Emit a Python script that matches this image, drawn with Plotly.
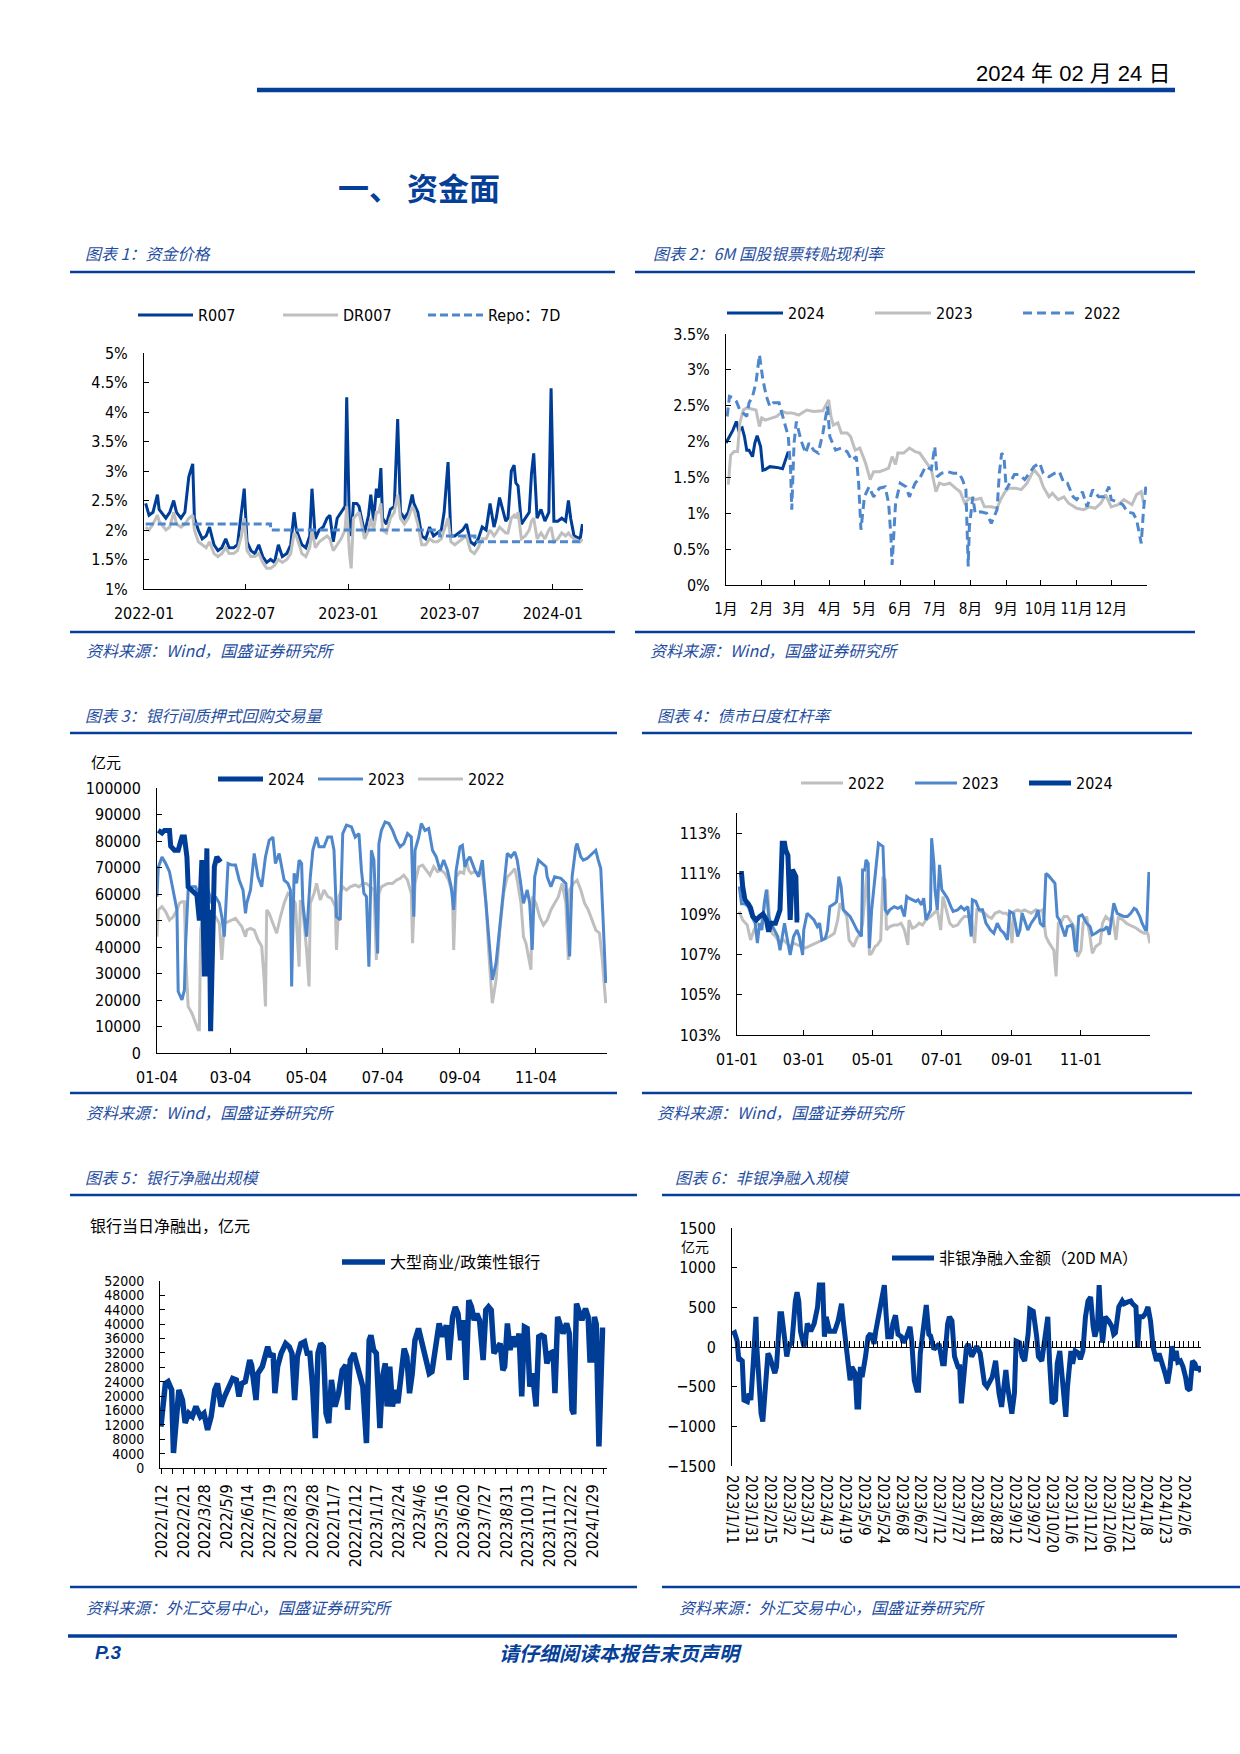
import plotly.graph_objects as go

W, H = 1240, 1754

# ======================= DATA =======================
# Chart 1: money market rates (%), 2022-01 .. 2024-02
c1_dates = [
    "2022-01-04", "2022-01-10", "2022-01-17", "2022-01-25", "2022-01-28",
    "2022-02-09", "2022-02-16", "2022-02-23", "2022-02-28",
    "2022-03-08", "2022-03-15", "2022-03-22", "2022-03-29",
    "2022-04-01", "2022-04-08", "2022-04-15", "2022-04-22", "2022-04-28",
    "2022-05-06", "2022-05-13", "2022-05-20", "2022-05-27",
    "2022-06-02", "2022-06-10", "2022-06-17", "2022-06-24", "2022-06-29",
    "2022-07-04", "2022-07-11", "2022-07-18", "2022-07-25",
    "2022-08-01", "2022-08-08", "2022-08-15", "2022-08-22", "2022-08-29",
    "2022-09-05", "2022-09-13", "2022-09-20", "2022-09-26", "2022-09-30",
    "2022-10-10", "2022-10-17", "2022-10-24", "2022-10-28",
    "2022-11-03", "2022-11-10", "2022-11-17", "2022-11-24", "2022-11-29",
    "2022-12-05", "2022-12-12", "2022-12-19", "2022-12-26", "2022-12-29",
    "2023-01-03", "2023-01-06", "2023-01-10", "2023-01-16", "2023-01-20", "2023-01-30",
    "2023-02-06", "2023-02-10", "2023-02-15", "2023-02-20", "2023-02-24", "2023-02-28",
    "2023-03-03", "2023-03-10", "2023-03-17", "2023-03-24", "2023-03-30",
    "2023-04-04", "2023-04-11", "2023-04-18", "2023-04-25", "2023-04-28",
    "2023-05-05", "2023-05-12", "2023-05-19", "2023-05-26",
    "2023-06-02", "2023-06-09", "2023-06-16", "2023-06-21", "2023-06-28",
    "2023-07-03", "2023-07-10", "2023-07-17", "2023-07-24", "2023-07-31",
    "2023-08-07", "2023-08-14", "2023-08-21", "2023-08-28",
    "2023-09-04", "2023-09-11", "2023-09-18", "2023-09-22", "2023-09-28",
    "2023-10-09", "2023-10-13", "2023-10-19", "2023-10-24", "2023-10-27", "2023-10-31",
    "2023-11-06", "2023-11-13", "2023-11-20", "2023-11-24", "2023-11-28",
    "2023-12-04", "2023-12-11", "2023-12-18", "2023-12-25", "2023-12-29",
    "2024-01-03", "2024-01-10", "2024-01-17", "2024-01-24", "2024-01-29",
    "2024-02-02", "2024-02-08", "2024-02-19", "2024-02-23",
]
c1_r007 = [
    2.45, 2.25, 2.3, 2.6, 2.35,
    2.2, 2.3, 2.5, 2.3,
    2.2, 2.3, 2.9, 3.12,
    2.2, 2.0, 1.85, 1.9, 2.05,
    1.75, 1.65, 1.7, 1.85,
    1.7, 1.7, 1.75, 2.3, 2.7,
    1.8, 1.65, 1.6, 1.75,
    1.55, 1.45, 1.5, 1.45, 1.75,
    1.55, 1.6, 1.75, 2.3, 2.0,
    1.75, 1.7, 1.9, 2.7,
    1.85, 2.0, 2.05, 2.2, 2.25,
    1.8, 2.2, 2.3, 2.4, 4.25,
    2.0, 1.9, 2.45, 2.45, 2.4, 1.95,
    2.25, 2.6, 2.15, 2.7, 2.55, 3.05,
    2.2, 2.1, 2.35, 2.4, 3.88,
    2.3, 2.2, 2.3, 2.6, 2.45,
    2.3, 1.9, 1.85, 2.05,
    1.9, 1.95, 2.0, 2.3, 3.15,
    1.9, 1.9, 1.95, 2.0, 2.1,
    1.8, 1.75, 1.85, 2.05,
    2.0, 2.45, 2.05, 2.2, 2.55,
    2.15, 2.2, 3.0, 3.1, 2.8, 2.75,
    2.1, 2.2, 2.3, 2.95, 3.3,
    2.2, 2.35, 2.15, 2.3, 4.4,
    2.15, 2.15, 2.2, 2.15, 2.5,
    2.2, 1.9, 1.85, 2.1,
]
c1_dr007 = [
    2.05, 2.0, 2.1, 2.25, 2.15,
    2.0, 2.05, 2.3, 2.1,
    2.05, 2.1, 2.2, 2.25,
    2.0, 1.8, 1.75, 1.7, 1.8,
    1.6, 1.55, 1.6, 1.7,
    1.6, 1.6, 1.65, 1.9, 2.2,
    1.65, 1.55, 1.55, 1.6,
    1.45, 1.35, 1.35, 1.4, 1.5,
    1.45, 1.5, 1.6, 1.95, 1.9,
    1.6, 1.55, 1.7, 2.0,
    1.7, 1.8, 1.85, 1.9, 1.85,
    1.65, 1.75, 1.85, 2.0, 2.4,
    1.6, 1.35, 2.2, 2.25, 2.3, 1.85,
    2.0, 2.2, 2.0, 2.3, 2.3, 2.45,
    2.0, 1.95, 2.2, 2.3, 2.6,
    2.2, 2.1, 2.2, 2.4, 2.35,
    2.1, 1.75, 1.75, 1.85,
    1.8, 1.8, 1.85, 2.0, 2.2,
    1.8, 1.75, 1.8, 1.85, 1.9,
    1.65, 1.6, 1.7, 1.85,
    1.85, 2.0, 1.9, 1.95, 2.05,
    1.95, 1.95, 2.2, 2.25, 2.2, 2.3,
    1.85, 1.9, 2.0, 2.15, 2.2,
    1.85, 1.95, 1.85, 2.0, 2.05,
    1.8, 1.85, 1.95, 1.9, 1.95,
    1.9, 1.85, 1.8, 1.85,
]
c1_repo_dates = ["2022-01-04", "2022-08-15", "2023-06-13", "2023-08-15", "2024-02-23"]
c1_repo = [2.1, 2.0, 1.9, 1.8, 1.8]
c1_xtick_vals = ["2022-01-01", "2022-07-01", "2023-01-01", "2023-07-01", "2024-01-01"]
c1_xtick_text = ["2022-01", "2022-07", "2023-01", "2023-07", "2024-01"]
c1_ytick_vals = [1, 1.5, 2, 2.5, 3, 3.5, 4, 4.5, 5]
c1_ytick_text = ["1%", "1.5%", "2%", "2.5%", "3%", "3.5%", "4%", "4.5%", "5%"]

# Chart 2: 6M bill rediscount rate (%), by day of year
c2_days_2024 = [0, 3, 6, 9, 11, 14, 16, 18, 20, 23, 25, 27, 30, 32, 34, 38, 44, 49, 51, 54]
c2_val_2024 = [1.98, 2.07, 2.16, 2.28, 2.16, 2.19, 2.07, 1.88, 1.88, 1.79, 1.98, 2.08, 1.93,
               1.60, 1.61, 1.65, 1.64, 1.62, 1.72, 1.86]
c2_days_2023 = [2, 4, 7, 10, 12, 15, 18, 26, 29, 31, 34, 39, 44, 49, 52, 57, 63, 70, 76, 84,
                89, 91, 93, 97, 100, 105, 108, 112, 116, 121, 125, 128, 133, 138, 141, 144, 147, 149, 154, 159,
                164, 168, 173, 178, 182, 185, 189, 194, 199, 203, 207, 211, 216, 221, 224, 230, 235, 238, 242, 245,
                251, 256, 261, 267, 272, 275, 280, 283, 288, 293, 297, 304, 310, 315, 320, 325, 329, 334, 340, 345,
                352, 356, 360, 362]
c2_val_2023 = [1.40, 1.81, 1.86, 1.86, 2.26, 2.44, 2.47, 2.44, 2.21, 2.33, 2.30, 2.33, 2.35, 2.42, 2.40, 2.40, 2.37, 2.44, 2.42, 2.43,
               2.58, 2.35, 2.23, 2.26, 2.12, 2.12, 2.07, 1.88, 1.91, 1.70, 1.47, 1.58, 1.58, 1.61, 1.63, 1.79, 1.68, 1.84, 1.84, 1.91,
               1.86, 1.84, 1.72, 1.61, 1.30, 1.42, 1.40, 1.42, 1.35, 1.30, 1.14, 1.21, 1.19, 1.21, 1.09, 1.09, 1.07, 1.19, 1.30, 1.35,
               1.35, 1.33, 1.42, 1.61, 1.51, 1.37, 1.23, 1.28, 1.19, 1.23, 1.14, 1.07, 1.05, 1.09, 1.07, 1.14, 1.26, 1.09, 1.12, 1.19,
               1.12, 1.26, 1.30, 1.14]
c2_days_2022 = [1, 3, 6, 9, 12, 15, 18, 20, 23, 26, 29, 32, 35, 38, 41, 46, 49, 52, 54, 56,
                57, 59, 61, 65, 69, 72, 76, 80, 84, 88, 90, 95, 100, 105, 109, 113, 115, 117, 120, 124,
                128, 133, 138, 141, 143, 144, 147, 151, 156, 159, 164, 168, 173, 178, 181, 183, 187, 192, 197, 202,
                205, 208, 210, 211, 214, 216, 221, 226, 230, 235, 237, 239, 241, 243, 246, 250, 254, 259, 264, 267,
                272, 275, 280, 285, 289, 293, 296, 301, 304, 309, 313, 318, 323, 328, 332, 334, 339, 344, 348, 353,
                356, 360, 362, 364]
c2_val_2022 = [2.35, 2.63, 2.61, 2.56, 2.44, 2.40, 2.35, 2.54, 2.63, 2.82, 3.21, 2.86, 2.63, 2.49, 2.54, 2.54, 2.37, 2.21, 2.07, 1.61,
               1.05, 1.98, 2.28, 2.02, 1.84, 1.98, 1.88, 1.84, 2.12, 2.49, 2.07, 1.88, 1.91, 1.86, 1.74, 1.79, 1.42, 0.77, 1.23, 1.37,
               1.23, 1.35, 1.37, 1.14, 0.67, 0.28, 1.14, 1.42, 1.37, 1.23, 1.42, 1.49, 1.65, 1.61, 1.93, 1.51, 1.56, 1.58, 1.56, 1.56,
               1.47, 1.33, 0.26, 0.81, 1.23, 1.00, 1.02, 1.00, 0.86, 1.05, 1.56, 1.84, 1.79, 1.33, 1.42, 1.54, 1.54, 1.47, 1.58, 1.65,
               1.70, 1.56, 1.51, 1.56, 1.58, 1.42, 1.42, 1.23, 1.19, 1.30, 1.09, 1.33, 1.23, 1.23, 1.37, 1.19, 1.16, 1.12, 1.02, 1.00,
               0.91, 0.58, 1.05, 1.37]
c2_xtick_vals = [0, 31, 59, 90, 120, 151, 181, 212, 243, 273, 304, 334, 365]
c2_xtick_text = ["1月", "2月", "3月", "4月", "5月", "6月", "7月", "8月", "9月", "10月", "11月", "12月", ""]
c2_ytick_vals = [0, 0.5, 1, 1.5, 2, 2.5, 3, 3.5]
c2_ytick_text = ["0%", "0.5%", "1%", "1.5%", "2%", "2.5%", "3%", "3.5%"]

# Chart 3: interbank pledged repo volume (亿元), days since 01-04
c3_days_2024 = [1, 4, 6, 10, 11, 14, 17, 20, 22, 24, 25, 28, 32, 34, 36, 37, 38, 40, 41, 42, 43, 45, 46, 48, 50, 51]
c3_val_2024 = [84000, 83000, 84000, 84000, 78000, 76500, 76500, 81500, 81500, 74000, 62700, 61500, 59600,
               50000, 72800, 51400, 28900, 77200, 28900, 54000, 8200, 49000, 70300, 74000, 72800, 72100]
c3_days_2023 = [0, 1, 4, 7, 10, 13, 16, 17, 20, 22, 23, 25, 28, 31, 32, 34, 36, 38, 41, 44,
                47, 50, 52, 54, 57, 60, 63, 66, 69, 71, 72, 75, 78, 81, 84, 87, 90, 93, 95, 98,
                100, 102, 105, 107, 108, 110, 112, 114, 116, 117, 120, 123, 125, 128, 130, 134, 137, 140, 142, 144,
                147, 149, 152, 156, 159, 162, 164, 166, 168, 170, 172, 174, 177, 178, 180, 183, 186, 189, 192, 195,
                198, 201, 204, 206, 207, 210, 212, 215, 218, 221, 224, 227, 230, 233, 236, 238, 240, 243, 245, 247,
                249, 251, 255, 258, 261, 263, 267, 269, 272, 275, 278, 281, 284, 287, 289, 291, 294, 297, 299, 301,
                303, 306, 309, 312, 313, 316, 319, 324, 328, 329, 331, 333, 336, 337, 340, 342, 345, 349, 352, 354,
                356, 358, 360]
c3_val_2023 = [59000, 70000, 74000, 71500, 68400, 61500, 54000, 23200, 20000, 23800,
               41400, 61500, 62700, 62700, 61500, 51400, 71500, 64000, 61500, 56500,
               59000, 56500, 51400, 43900, 71500, 70900, 70900, 65200, 61500, 52700,
               56500, 61500, 75300, 66500, 62700, 74000, 80300, 81500, 71500, 75300,
               70300, 65200, 64000, 61500, 25100, 67800, 64000, 72800, 71500, 56500,
               43900, 66500, 76500, 81500, 77800, 77800, 81500, 81500, 76500, 51400,
               50200, 82800, 86000, 85300, 81500, 82800, 69000, 60200, 59000, 32600,
               76500, 72800, 37600, 79000, 84000, 87200, 86600, 84000, 80300, 77800,
               79000, 82800, 81500, 51400, 76500, 81500, 86600, 84000, 84700, 76500,
               74000, 69000, 72800, 69000, 62700, 54000, 69000, 77800, 78400, 70300,
               72800, 74000, 69000, 66500, 72800, 61500, 41400, 27600, 33900, 48900,
               61500, 75300, 74000, 75900, 72800, 66500, 56500, 61500, 56500, 38900,
               66500, 72800, 71500, 70300, 66500, 62700, 66500, 65900, 64000, 56500,
               36400, 66500, 77800, 79000, 74000, 72800, 73400, 75300, 76500, 72800,
               69600, 48900, 26400]
c3_days_2022 = [0, 1, 4, 7, 10, 13, 16, 18, 20, 22, 23, 25, 28, 31, 33, 34, 35, 38, 41, 44,
                47, 50, 52, 54, 57, 60, 63, 66, 68, 71, 72, 75, 78, 81, 84, 86, 87, 88, 90, 93,
                96, 99, 102, 105, 108, 111, 114, 115, 117, 120, 122, 123, 126, 128, 131, 134, 137, 140, 143, 144,
                146, 149, 152, 155, 159, 162, 165, 168, 171, 174, 176, 178, 180, 185, 189, 192, 195, 198, 201, 204,
                205, 207, 210, 213, 216, 219, 222, 225, 228, 231, 234, 237, 238, 240, 243, 246, 248, 250, 252, 255,
                258, 261, 264, 266, 269, 272, 275, 278, 281, 284, 287, 289, 292, 294, 296, 299, 300, 301, 304, 307,
                310, 313, 316, 319, 322, 325, 327, 328, 330, 331, 334, 337, 340, 343, 346, 349, 352, 355, 357, 360]
c3_val_2022 = [43900, 54000, 55200, 53300, 50200, 51400, 54000, 56500, 57100, 57100,
               36400, 17600, 15000, 11300, 8800, 8800, 46400, 55200, 52700, 51400,
               51400, 48900, 35100, 48900, 49600, 50200, 50800, 48900, 47700, 43900,
               46400, 47000, 46400, 42700, 40200, 27600, 17600, 54000, 52700, 48900,
               45200, 51400, 56500, 60200, 59000, 56500, 32600, 57700, 54000, 38900,
               25100, 56500, 60200, 64000, 57700, 61500, 59000, 58300, 55200, 38900,
               59000, 62700, 61500, 62700, 63400, 62700, 64000, 64000, 62700, 61500,
               35100, 60200, 62700, 64000, 64000, 65200, 65900, 67100, 65200, 60200,
               41400, 64000, 70300, 70900, 69000, 67100, 70300, 68400, 69000, 67800,
               65200, 60200, 38900, 66500, 68400, 67800, 72800, 69000, 67800, 68400,
               67800, 67800, 56500, 38900, 18800, 27600, 46400, 60200, 66500, 67800,
               69600, 65200, 56500, 43900, 41400, 32600, 31400, 59000, 56500, 51400,
               48300, 50200, 54000, 56500, 59000, 64000, 59000, 56500, 35100, 61500,
               64000, 65200, 61500, 56500, 54000, 50200, 46400, 45200, 36400, 18800]
c3_xtick_vals = [0, 59, 120, 181, 243, 304]
c3_xtick_text = ["01-04", "03-04", "05-04", "07-04", "09-04", "11-04"]

# Chart 4: bond market daily leverage (%), by day of year
c4_days_2024 = [2, 4, 5, 7, 10, 12, 14, 17, 20, 23, 26, 28, 30, 34, 38, 40, 42, 43, 45, 46, 47, 49, 50, 52, 53, 55]
c4_val_2024 = [111.0, 111.0, 110.36, 109.7, 109.5, 109.3, 108.87, 108.7, 108.87, 109.0, 108.7, 108.12, 108.54,
               108.54, 109.2, 112.5, 112.5, 112.17, 111.9, 110.2, 108.7, 111.2, 111.1, 110.85, 108.7, 108.7]
c4_days_2023 = [2, 4, 7, 10, 13, 16, 18, 20, 22, 24, 26, 28, 30, 33, 36, 38, 41, 42, 44, 47,
                50, 53, 55, 58, 59, 62, 65, 68, 71, 73, 75, 78, 80, 82, 86, 88, 90, 92, 94, 97,
                100, 103, 106, 110, 111, 113, 114, 116, 117, 119, 122, 125, 127, 129, 131, 133, 135, 139, 142, 145,
                148, 150, 152, 155, 158, 160, 163, 165, 167, 171, 172, 174, 175, 177, 179, 181, 183, 186, 189, 191,
                195, 198, 201, 204, 207, 208, 211, 214, 217, 220, 224, 227, 230, 233, 236, 239, 241, 244, 246, 248,
                250, 252, 255, 257, 260, 264, 266, 268, 271, 273, 275, 278, 281, 283, 285, 288, 290, 292, 296, 297,
                299, 300, 302, 305, 307, 309, 312, 314, 317, 321, 324, 327, 329, 331, 333, 336, 339, 342, 345, 348,
                351, 353, 356, 358, 361, 362, 364, 365]
c4_val_2023 = [110.36, 109.5, 109.5, 109.36, 108.87, 108.54, 107.55, 108.54, 108.2, 109.5,
               110.2, 108.87, 108.54, 108.2, 107.88, 107.2, 108.37, 108.54, 107.88, 106.97,
               107.88, 108.2, 107.88, 106.97, 108.2, 109.03, 108.87, 108.7, 108.37, 108.54,
               107.71, 107.79, 108.2, 109.36, 109.5, 109.6, 110.85, 110.36, 109.2, 109.03,
               108.87, 108.54, 108.2, 107.88, 111.18, 111.18, 111.68, 111.5, 107.3, 109.2,
               110.85, 112.5, 112.42, 112.34, 109.2, 109.03, 109.2, 109.36, 109.28, 109.36,
               108.87, 109.86, 109.78, 109.7, 109.62, 109.7, 109.45, 109.78, 108.7, 109.2,
               112.75, 111.5, 110.2, 109.2, 111.43, 110.2, 110.02, 109.78, 109.36, 109.12,
               109.2, 109.36, 109.2, 109.36, 107.88, 109.7, 109.62, 109.2, 109.2, 108.54,
               108.2, 108.04, 108.54, 108.2, 108.04, 107.71, 109.12, 109.03, 108.54, 107.88,
               108.2, 109.03, 108.54, 108.2, 108.54, 108.87, 109.2, 108.54, 108.37, 111.0,
               110.92, 110.69, 110.52, 108.87, 108.7, 108.2, 107.88, 108.37, 108.45, 108.2,
               107.2, 107.13, 108.87, 108.95, 108.7, 108.54, 108.37, 107.96, 108.04, 108.2,
               108.2, 108.37, 107.96, 108.87, 109.53, 109.03, 108.95, 108.87, 108.87, 109.03,
               109.28, 109.2, 108.87, 108.54, 108.2, 108.2, 111.0, 111.0]
c4_days_2022 = [2, 5, 9, 12, 15, 18, 21, 25, 27, 29, 31, 34, 38, 41, 44, 47, 50, 54, 57, 60,
                63, 66, 70, 73, 76, 79, 82, 86, 89, 91, 94, 97, 99, 103, 106, 109, 111, 114, 115, 117,
                119, 122, 124, 127, 129, 131, 132, 135, 139, 142, 145, 148, 151, 152, 155, 158, 161, 164, 167, 171,
                174, 177, 180, 182, 185, 188, 191, 195, 198, 201, 204, 207, 210, 212, 216, 219, 222, 225, 228, 232,
                235, 238, 241, 243, 245, 248, 251, 254, 257, 260, 264, 267, 270, 273, 276, 280, 282, 284, 286, 289,
                292, 296, 298, 301, 304, 306, 309, 312, 314, 317, 321, 323, 326, 329, 332, 335, 337, 341, 344, 347,
                350, 353, 357, 360, 363, 365]
c4_val_2022 = [109.12, 108.7, 108.45, 107.71, 108.2, 108.54, 108.37, 109.53, 110.2, 108.54,
               108.04, 107.88, 107.55, 107.71, 107.55, 107.38, 107.55, 107.46, 107.38, 107.3,
               107.38, 107.46, 107.55, 107.63, 107.71, 107.79, 107.88, 108.04, 108.7, 109.53,
               109.2, 108.87, 107.71, 107.38, 107.79, 108.04, 108.54, 110.85, 111.18, 106.97,
               107.05, 107.38, 107.46, 107.71, 110.85, 110.69, 108.2, 108.37, 108.45, 108.45,
               108.54, 108.2, 107.46, 108.7, 108.29, 108.37, 108.54, 108.45, 108.7, 108.87,
               109.03, 109.2, 108.2, 109.86, 109.2, 108.54, 108.37, 108.45, 108.7, 108.87,
               108.87, 108.87, 107.55, 109.2, 109.12, 109.03, 108.87, 108.78, 109.03, 109.12,
               109.03, 109.03, 108.87, 107.55, 109.12, 109.2, 109.12, 109.2, 109.12, 109.03,
               109.2, 109.12, 109.2, 107.88, 107.55, 107.2, 105.9, 108.54, 108.54, 108.87,
               108.87, 108.54, 108.37, 106.88, 107.2, 108.54, 108.87, 107.88, 107.05, 107.38,
               107.55, 108.54, 108.87, 108.7, 108.87, 107.71, 108.87, 108.7, 108.54, 108.45,
               108.37, 108.29, 108.12, 108.04, 108.04, 107.55]
c4_xtick_vals = [0, 59, 120, 181, 243, 304]
c4_xtick_text = ["01-01", "03-01", "05-01", "07-01", "09-01", "11-01"]
c4_ytick_vals = [103, 105, 107, 109, 111, 113]
c4_ytick_text = ["103%", "105%", "107%", "109%", "111%", "113%"]

# Chart 5: large banks' daily net lending (亿元), trading-day index
c5_idx = [0, 3, 5, 8, 12, 14, 16, 18, 20, 24, 27, 31, 35, 39, 44, 48, 52, 56, 60, 63,
          67, 71, 75, 80, 84, 87, 90, 94, 99, 101, 106, 108, 113, 119, 122, 125, 127, 130, 134, 139,
          143, 146, 149, 152, 156, 160, 163, 166, 169, 172, 175, 178, 181, 184, 187, 190, 194, 198, 202, 206,
          208, 211, 215, 218, 221, 225, 229, 232, 234, 237, 240, 244, 247, 250, 252, 255, 258, 261, 264, 268,
          271, 274, 277, 280, 283, 287, 290, 293, 296, 299, 302, 305, 308, 310, 314, 318, 321, 325, 328, 331,
          334, 337, 340, 343, 346, 349, 352, 355, 359, 362, 365, 368, 371, 375, 378, 381, 383, 386, 389, 392,
          396, 399, 402, 405, 408, 411, 414, 418, 421, 424, 427, 430, 434, 437, 439, 442, 445, 448, 452, 455,
          458, 460, 463, 466, 469, 473, 476, 478, 480, 483, 485, 488, 490, 492, 495]
c5_val = [11500, 20800, 23500, 24000, 21700, 4200, 11500, 18900, 21700, 18900,
          12500, 15200, 14300, 17100, 14300, 15200, 10600, 14300, 21700, 23500,
          17100, 19900, 22600, 24900, 24500, 19900, 23500, 24000, 30000, 28600,
          18900, 26300, 28200, 33700, 30900, 31900, 20800, 28200, 31900, 34600,
          33700, 31900, 18900, 30900, 34600, 35100, 31900, 31900, 22600, 8300,
          31900, 34600, 33700, 15200, 12500, 24500, 17100, 20800, 27200, 28600,
          16200, 30000, 31900, 29100, 26300, 22600, 6900, 35500, 36900, 32800,
          31900, 11100, 25400, 29100, 17100, 28200, 17100, 21700, 18000, 28200,
          33200, 30900, 20800, 26300, 35500, 38800, 35500, 33700, 29100, 26300,
          26800, 32800, 37400, 40200, 36500, 39700, 30000, 42000, 44800, 42900,
          35500, 41100, 24500, 46600, 44800, 41100, 42900, 41100, 30000, 43900,
          44800, 43900, 31900, 33700, 34600, 27200, 28200, 40200, 32800, 36500,
          33700, 37400, 19900, 39200, 38800, 22600, 26300, 17100, 36500, 36900,
          36500, 29100, 31900, 32300, 20800, 42000, 39200, 37400, 40200, 37400,
          16200, 15000, 45700, 42900, 41100, 44300, 42000, 30000, 30000, 42000,
          40000, 6000, 30000, 38300, 38300]
c5_tick_idx = [1, 25, 49, 73, 97, 121, 145, 169, 193, 217, 241, 265, 289, 313, 337, 361, 385, 409, 433, 457, 481]
c5_tick_text = ["2022/1/12", "2022/2/21", "2022/3/28", "2022/5/9", "2022/6/14", "2022/7/19", "2022/8/23",
                "2022/9/28", "2022/11/7", "2022/12/12", "2023/1/17", "2023/2/24", "2023/4/6", "2023/5/16",
                "2023/6/20", "2023/7/27", "2023/8/31", "2023/10/13", "2023/11/17", "2023/12/22", "2024/1/29"]

# Chart 6: non-bank net borrowing, 20D MA (亿元), trading-day index
c6_idx = [0, 1.5, 3, 4, 5, 6, 7, 9, 10, 11, 12.5, 14, 14.5, 16, 17, 18, 19, 21, 22, 23.5,
          25, 26, 28, 29, 31, 32, 33, 35, 37, 38, 39, 40, 42, 43, 44, 46, 48, 50, 51, 53,
          54, 55, 57, 60, 62, 64, 65, 67, 68, 69, 70, 72, 73, 74, 75, 76, 78, 79.5, 81, 83,
          84, 86, 87, 89, 90, 91, 93, 94, 95.5, 97, 99, 100, 102, 104, 105, 106.5, 108, 109, 110, 112,
          113.5, 115, 116, 118, 119.5, 121, 123, 124, 126, 127, 128.5, 130, 132, 133, 134, 135.5, 137, 138, 140, 141,
          143, 145, 146.5, 147.5, 149, 151, 152, 154, 155, 156, 157.5, 158.5, 160, 161, 162.5, 163.5, 165, 166, 168, 169.5,
          171, 173, 174, 176, 178, 179, 181, 183, 184.5, 185.5, 187, 189, 190, 191.5, 192.5, 193.5, 195, 196, 197, 198,
          199, 200.5, 202.5, 203.5, 205, 206.5, 208, 209.5, 211, 212, 213.5, 214.5, 215.5, 216.5, 218, 220, 222, 223, 224, 226,
          228, 229, 231, 233, 234, 236, 237, 238, 240, 241.5, 243, 244.5, 246, 248, 249.5, 251, 253, 254.5, 256, 257,
          258.5, 259.5, 260.5, 262, 263.5, 265, 266, 267.5, 269, 270.5, 271.5, 272.5, 274]
c6_val = [160, 180, 75, -175, -155, -175, -670, -690, -585, -670,
          -175, 380, 0, -585, -840, -940, -585, -80, -120, -250,
          -330, -250, 420, 420, 0, -120, 0, 55, 580, 690,
          580, 200, 10, 85, 295, 200, 295, 505, 780, 780,
          130, 380, 200, 200, 330, 545, 330, 0, -250, -420,
          -250, -330, -755, -755, -250, -380, -120, 130, 170, 40,
          200, 420, 545, 780, 420, 130, 130, 295, 400, 160,
          130, 55, 130, 255, 75, -420, -545, -545, -80, 295,
          530, 160, 140, -30, 0, 40, -210, -210, 295, 380,
          330, -120, -250, -250, -710, -420, 0, 40, -120, -80,
          10, -80, -290, -460, -500, -420, -380, -175, -420, -585,
          -755, -500, -290, -500, -755, -840, -585, 75, 55, -120,
          -175, 160, 475, 450, 130, -120, -175, 160, 380, -175,
          -710, -670, -210, -50, -250, -585, -880, -500, -175, -50,
          -210, -50, -80, -155, -50, 380, 580, 630, 255, 130,
          255, 780, 330, 55, 380, 330, 255, 160, 180, 505,
          580, 545, 565, 580, 545, 505, 0, 380, 380, 420,
          505, 330, 0, -175, -80, -175, -330, -460, -250, 10,
          -175, -50, -190, -175, -250, -380, -520, -545, -175, -210,
          -290, -250, -315]
c6_tick_idx = [0, 11, 22, 33, 44, 55, 66, 77, 88, 99, 110, 121, 132, 143, 154, 165, 176, 187, 198, 209,
               220, 231, 242, 253, 264]
c6_tick_text = ["2023/1/11", "2023/1/31", "2023/2/15", "2023/3/2", "2023/3/17", "2023/4/3", "2023/4/19",
                "2023/5/9", "2023/5/24", "2023/6/8", "2023/6/27", "2023/7/12", "2023/7/27", "2023/8/11",
                "2023/8/28", "2023/9/12", "2023/9/27", "2023/10/20", "2023/11/6", "2023/11/21",
                "2023/12/06", "2023/12/21", "2024/1/8", "2024/1/23", "2024/2/6"]

# ======================= STYLE / LAYOUT HELPERS =======================
def px_x(v):
    return v / W


def px_y(v):
    return 1 - v / H


def dom_x(a, b):
    return [a / W, b / W]


def dom_y(top, bottom):
    return [1 - bottom / H, 1 - top / H]


DARK = "#003D96"
MID = "#4F87CD"
GRAY = "#BFBFBF"
BRAND = "#063F98"
TITLE_BLUE = "#1F4EA0"
NUM_FONT = "DejaVu Sans Condensed, Liberation Sans, Noto Sans CJK SC, sans-serif"
CJK_FONT = "Noto Sans CJK SC, Noto Sans, sans-serif"

fig = go.Figure()


def add_line(x, y, xa, ya, name, color, width, legend, dash=None, shape="linear", showlegend=True):
    fig.add_trace(go.Scatter(
        x=x, y=y, mode="lines", name=name, xaxis=xa, yaxis=ya,
        line=dict(color=color, width=width, dash=dash, shape=shape),
        legend=legend, showlegend=showlegend, hoverinfo="skip"))


# Chart 1
add_line(c1_dates, c1_r007, "x", "y", "R007", DARK, 3, "legend")
add_line(c1_dates, c1_dr007, "x", "y", "DR007", GRAY, 3, "legend")
add_line(c1_repo_dates, c1_repo, "x", "y", "Repo：7D", MID, 3, "legend", dash="8px,4px", shape="hv")
# Chart 2
add_line(c2_days_2024, c2_val_2024, "x2", "y2", "2024", DARK, 3, "legend2")
add_line(c2_days_2023, c2_val_2023, "x2", "y2", "2023", GRAY, 3, "legend2")
add_line(c2_days_2022, c2_val_2022, "x2", "y2", "2022", MID, 3, "legend2", dash="9px,5px")
# Chart 3
add_line(c3_days_2022, c3_val_2022, "x3", "y3", "2022", GRAY, 3, "legend3")
add_line(c3_days_2023, c3_val_2023, "x3", "y3", "2023", MID, 3, "legend3")
add_line(c3_days_2024, c3_val_2024, "x3", "y3", "2024", DARK, 5, "legend3")
# Chart 4
add_line(c4_days_2022, c4_val_2022, "x4", "y4", "2022", GRAY, 3, "legend4")
add_line(c4_days_2023, c4_val_2023, "x4", "y4", "2023", MID, 3, "legend4")
add_line(c4_days_2024, c4_val_2024, "x4", "y4", "2024", DARK, 5, "legend4")
# Chart 5
add_line(c5_idx, c5_val, "x5", "y5", "大型商业/政策性银行", DARK, 5.5, "legend5")
# Chart 6
add_line(c6_idx, c6_val, "x6", "y6", "非银净融入金额（20D MA）", DARK, 5, "legend6")
# helper trace so the tick-only axis on the zero line is drawn
fig.add_trace(go.Scatter(x=[None], y=[None], xaxis="x7", yaxis="y6", mode="lines",
                         showlegend=False, hoverinfo="skip"))

AX = dict(showline=True, linecolor="black", linewidth=1, showgrid=False, zeroline=False,
          ticks="inside", ticklen=5, tickwidth=1, tickcolor="black", automargin=False,
          tickfont=dict(family=NUM_FONT, size=16, color="black"), fixedrange=True)


def A(**kw):
    d = dict(AX)
    d.update(kw)
    return d


def LEG(xpx, ypx, itemw, ew=None, family=NUM_FONT, order="normal"):
    d = dict(x=px_x(xpx), y=px_y(ypx), xanchor="left", yanchor="middle", orientation="h",
             bgcolor="rgba(0,0,0,0)", font=dict(family=family, size=16, color="black"),
             itemwidth=itemw, traceorder=order, itemclick=False, itemdoubleclick=False)
    if ew:
        d["entrywidth"] = ew
        d["entrywidthmode"] = "pixels"
    return d


y6_dom = dom_y(1228, 1466)

layout = dict(
    width=W, height=H, margin=dict(l=0, r=0, t=0, b=0, pad=0, autoexpand=False),
    paper_bgcolor="white", plot_bgcolor="rgba(0,0,0,0)", hovermode=False,
    # chart 1
    xaxis=A(domain=dom_x(144, 583), anchor="y", type="date", range=["2022-01-01", "2024-02-24"],
            tickmode="array", tickvals=c1_xtick_vals, ticktext=c1_xtick_text, ticklabelstandoff=10),
    yaxis=A(domain=dom_y(353, 589), anchor="x", range=[1, 5], tickmode="array",
            tickvals=c1_ytick_vals, ticktext=c1_ytick_text, ticklabelstandoff=12),
    # chart 2
    xaxis2=A(domain=dom_x(726, 1147), anchor="y2", range=[0, 365], tickmode="array",
             tickvals=c2_xtick_vals, ticktext=c2_xtick_text, tickangle=0, ticklabelstandoff=10,
             tickfont=dict(family=NUM_FONT, size=15, color="black")),
    yaxis2=A(domain=dom_y(334, 585), anchor="x2", range=[0, 3.5], tickmode="array",
             tickvals=c2_ytick_vals, ticktext=c2_ytick_text, ticklabelstandoff=12),
    # chart 3
    xaxis3=A(domain=dom_x(157, 607), anchor="y3", range=[0, 361], tickmode="array",
             tickvals=c3_xtick_vals, ticktext=c3_xtick_text, ticklabelstandoff=10),
    yaxis3=A(domain=dom_y(788, 1053), anchor="x3", range=[0, 100000], dtick=10000, tick0=0,
             tickformat="d", ticklabelstandoff=12),
    # chart 4
    xaxis4=A(domain=dom_x(737, 1150), anchor="y4", range=[0, 365], tickmode="array",
             tickvals=c4_xtick_vals, ticktext=c4_xtick_text, ticklabelstandoff=10),
    yaxis4=A(domain=dom_y(813, 1035), anchor="x4", range=[103, 114], tickmode="array",
             tickvals=c4_ytick_vals, ticktext=c4_ytick_text, ticklabelstandoff=12),
    # chart 5
    xaxis5=A(domain=dom_x(160, 607), anchor="y5", range=[-1, 497], tickmode="array",
             tickvals=c5_tick_idx, ticktext=c5_tick_text, tickangle=-90, ticks="outside",
             ticklabelstandoff=4,
             minor=dict(ticks="outside", ticklen=5, tickcolor="black", tick0=1, dtick=12)),
    yaxis5=A(domain=dom_y(1281, 1468), anchor="x5", range=[0, 52000], dtick=4000, tick0=0,
             tickformat="d", ticklabelstandoff=12,
             tickfont=dict(family=NUM_FONT, size=14, color="black")),
    # chart 6
    xaxis6=A(domain=dom_x(732, 1201), anchor="y6", range=[0, 274], tickmode="array",
             tickvals=c6_tick_idx, ticktext=c6_tick_text, tickangle=90, ticks="",
             showline=False, ticklabelstandoff=8,
             tickfont=dict(family=NUM_FONT, size=15, color="black")),
    yaxis6=A(domain=y6_dom, anchor="x6", range=[-1500, 1500], dtick=500, tick0=0,
             zeroline=True, zerolinecolor="black", zerolinewidth=1, ticklabelstandoff=12),
    xaxis7=dict(overlaying="x6", anchor="free", position=(y6_dom[0] + y6_dom[1]) / 2,
                range=[0, 274], showline=False, showgrid=False, zeroline=False, automargin=False,
                showticklabels=False, ticks="inside", ticklen=6, tickcolor="black",
                tick0=0, dtick=2.75, fixedrange=True),
    legend=LEG(133, 315, 55, ew=75),
    legend2=LEG(722, 313, 56, ew=77),
    legend3=LEG(213, 779, 45, ew=40, order="reversed"),
    legend4=LEG(796, 783, 42, ew=57),
    legend5=LEG(337, 1262, 43, family=CJK_FONT),
    legend6=LEG(887, 1258, 42, family=CJK_FONT),
)
fig.update_layout(**layout)

# ---------------- page decorations ----------------
shapes = []


def hline(x0, x1, y, w, color=BRAND):
    shapes.append(dict(type="line", xref="paper", yref="paper", x0=px_x(x0), x1=px_x(x1),
                       y0=px_y(y), y1=px_y(y), line=dict(color=color, width=w)))


hline(257, 1175, 90, 4.5)
hline(70, 615, 272, 2.5)
hline(635, 1195, 272, 2.5)
hline(70, 615, 632, 2.5)
hline(635, 1195, 632, 2.5)
hline(70, 617, 733, 2.5)
hline(642, 1192, 733, 2.5)
hline(70, 617, 1093, 2.5)
hline(642, 1192, 1093, 2.5)
hline(70, 637, 1195, 2.5)
hline(662, 1240, 1195, 2.5)
hline(70, 637, 1587, 2.5)
hline(662, 1240, 1587, 2.5)
hline(68, 1177, 1636, 3.5)

annotations = []


def text(x, y, s, size, color="black", family=CJK_FONT, anchor="left"):
    annotations.append(dict(xref="paper", yref="paper", x=px_x(x), y=px_y(y), text=s,
                            showarrow=False, xanchor=anchor, yanchor="middle",
                            font=dict(family=family, size=size, color=color)))


text(1172, 73, "2024 年 02 月 24 日", 22, "black",
     "Liberation Sans Narrow, Liberation Sans, Noto Sans CJK SC", "right")
text(336, 186, "<b>一、 资金面</b>", 31, BRAND)
text(83, 253, "<i>图表 1：资金价格</i>", 16, TITLE_BLUE)
text(651, 253, "<i>图表 2：6M 国股银票转贴现利率</i>", 16, TITLE_BLUE)
text(83, 715, "<i>图表 3：银行间质押式回购交易量</i>", 16, TITLE_BLUE)
text(655, 715, "<i>图表 4：债市日度杠杆率</i>", 16, TITLE_BLUE)
text(83, 1177, "<i>图表 5：银行净融出规模</i>", 16, TITLE_BLUE)
text(673, 1177, "<i>图表 6：非银净融入规模</i>", 16, TITLE_BLUE)
text(84, 650, "<i>资料来源：Wind，国盛证券研究所</i>", 16, TITLE_BLUE)
text(648, 650, "<i>资料来源：Wind，国盛证券研究所</i>", 16, TITLE_BLUE)
text(84, 1112, "<i>资料来源：Wind，国盛证券研究所</i>", 16, TITLE_BLUE)
text(655, 1112, "<i>资料来源：Wind，国盛证券研究所</i>", 16, TITLE_BLUE)
text(84, 1607, "<i>资料来源：外汇交易中心，国盛证券研究所</i>", 16, TITLE_BLUE)
text(677, 1607, "<i>资料来源：外汇交易中心，国盛证券研究所</i>", 16, TITLE_BLUE)
text(89, 762, "亿元", 15)
text(679, 1246, "亿元", 14)
text(88, 1225, "银行当日净融出，亿元", 16)
text(93, 1652, "<b><i>P.3</i></b>", 19, BRAND, "Liberation Sans, sans-serif")
text(620, 1652, "<b><i>请仔细阅读本报告末页声明</i></b>", 20, BRAND, CJK_FONT, "center")

fig.update_layout(shapes=shapes, annotations=annotations)

fig.write_html("out.html", config={"displayModeBar": False, "staticPlot": True},
               post_script="document.body.style.margin='0';")
